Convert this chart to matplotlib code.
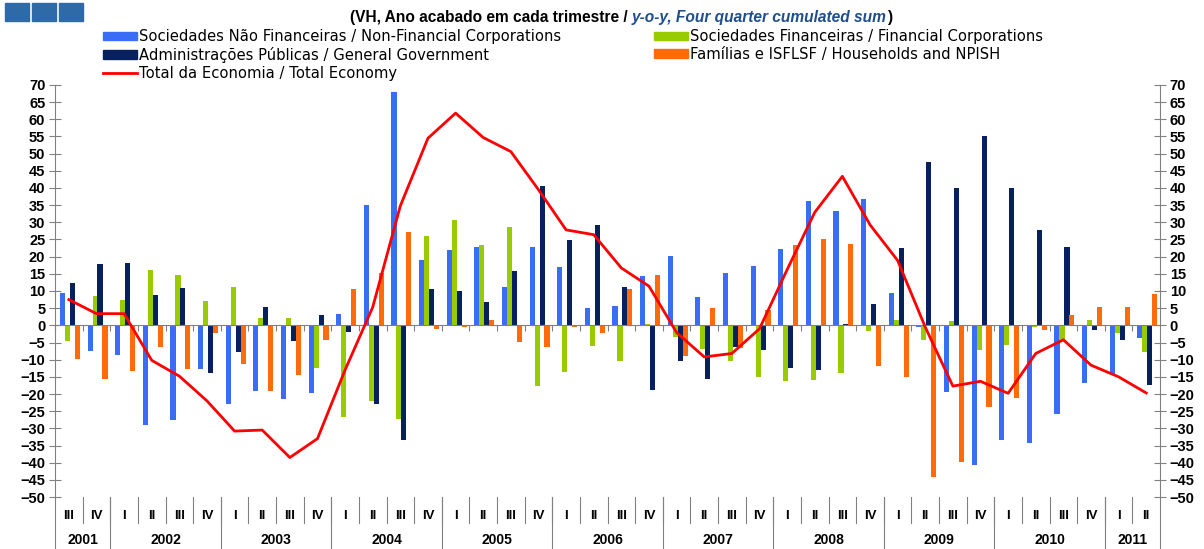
import matplotlib

matplotlib.use("Agg")
import matplotlib.pyplot as plt
import numpy as np
from matplotlib.lines import Line2D
from matplotlib.patches import Patch, Rectangle

# quarters 2001 III .. 2011 II
quarters = ["III", "IV"] + ["I", "II", "III", "IV"] * 9 + ["I", "II"]
years = ["2001", "2002", "2003", "2004", "2005", "2006", "2007", "2008", "2009", "2010", "2011"]
quarters_per_year = [2, 4, 4, 4, 4, 4, 4, 4, 4, 4, 2]

non_financial = [9.5, -7.5, -8.5, -29.1, -27.6, -12.8, -22.8, -19.0, -21.4, -19.6,
                 3.3, 35.1, 67.9, 19.1, 21.9, 22.7, 11.3, 22.7, 16.9, 5.1,
                 5.5, 14.4, 20.3, 8.2, 15.1, 17.2, 22.2, 36.1, 33.3, 36.7,
                 9.5, -0.5, -19.4, -40.8, -33.4, -34.2, -25.8, -16.9, -14.2, -3.6]
financial = [-4.5, 8.6, 7.4, 16.0, 14.8, 7.0, 11.2, 2.1, 2.1, -12.5,
             -26.6, -22.1, -27.4, 25.9, 30.8, 23.4, 28.7, -17.7, -13.7, -6.0,
             -10.4, 0.4, -3.4, -6.9, -10.5, -15.0, -16.3, -15.8, -14.0, -1.6,
             1.5, -4.4, 1.2, -7.3, -5.8, -0.5, -4.4, 1.5, -2.2, -7.9]
government = [12.3, 17.8, 18.1, 8.9, 11.0, -14.0, -7.8, 5.4, -4.7, 3.0,
              -2.0, -22.9, -33.4, 10.5, 9.9, 6.8, 15.7, 40.6, 24.9, 29.2,
              11.3, -18.7, -10.5, -15.7, -6.4, -7.3, -12.3, -12.9, 0.5, 6.1,
              22.5, 47.7, 40.0, 55.2, 40.0, 27.7, 22.7, -1.5, -4.2, -17.4]
households = [-9.8, -15.6, -13.4, -6.4, -12.8, -2.3, -11.4, -19.0, -14.6, -4.2,
              10.6, 15.2, 27.3, -1.1, -0.5, 1.5, -4.8, -6.4, -0.5, -2.1,
              10.5, 14.7, -8.9, 5.1, -6.6, 4.4, 23.4, 25.2, 23.7, -11.8,
              -15.0, -44.3, -39.7, -23.7, -21.1, -1.5, 3.1, 5.3, 5.3, 9.2]
total = [7.5, 3.4, 3.4, -10.2, -14.8, -22.0, -30.8, -30.5, -38.5, -33.0,
         -13.0, 5.3, 34.8, 54.5, 61.8, 54.7, 50.6, 39.5, 27.8, 26.4,
         16.7, 11.4, -2.1, -9.2, -8.2, -1.0, 16.2, 32.9, 43.4, 29.3,
         18.9, -0.5, -17.7, -16.3, -19.8, -8.2, -4.2, -11.6, -15.0, -19.7]

labels = [
    "Sociedades Não Financeiras / Non-Financial Corporations",
    "Sociedades Financeiras / Financial Corporations",
    "Administrações Públicas / General Government",
    "Famílias e ISFLSF / Households and NPISH",
    "Total da Economia / Total Economy",
]
colors = ["#3a6df5", "#99cc00", "#06215e", "#ff6a0a"]
line_color = "#ff0000"

plt.rcParams["font.family"] = ["Liberation Sans", "DejaVu Sans"]

fig = plt.figure(figsize=(12.04, 5.49), dpi=100)
ax = fig.add_axes([0.0457, 0.0947, 0.9178, 0.7505])

x = np.arange(len(quarters))
width = 0.185
offsets = [-0.23, -0.05, 0.13, 0.31]
for series, color, off in zip([non_financial, financial, government, households], colors, offsets):
    ax.bar(x + off, series, width=width, color=color, zorder=2)
ax.plot(x, total, color=line_color, linewidth=2, zorder=3)

ax.set_xlim(-0.5, len(quarters) - 0.5)
ax.set_ylim(-50, 70)
ax.set_yticks(np.arange(-50, 71, 5))
ax.set_xticks(x - 0.5)
ax.set_xticklabels([])
ax.tick_params(axis="x", direction="out", length=4, color="#808080")
ax.tick_params(axis="y", direction="inout", length=8, color="#808080",
               labelsize=10.5, right=True, labelright=True, pad=3)
for lab in ax.get_yticklabels():
    lab.set_fontweight("bold")

ax.spines["top"].set_visible(False)
ax.spines["bottom"].set_position(("data", 0))
for side in ["left", "right", "bottom"]:
    ax.spines[side].set_color("#808080")

# category axis below the plot: quarters and years
trans = ax.get_xaxis_transform()
for i, q in enumerate(quarters):
    ax.text(i, -0.045, q, transform=trans, ha="center", va="center",
            fontsize=9.5, fontweight="bold")
    if i > 0:
        ax.add_line(Line2D([i - 0.5, i - 0.5], [0, -0.063], transform=trans,
                           color="#808080", linewidth=0.8, clip_on=False))
start = 0
bounds = [-0.5]
for yr, n in zip(years, quarters_per_year):
    ax.text(start + (n - 1) / 2, -0.105, yr, transform=trans, ha="center", va="center",
            fontsize=10, fontweight="bold")
    start += n
    bounds.append(start - 0.5)
for b in bounds:
    ax.add_line(Line2D([b, b], [0, -0.13], transform=trans,
                       color="#808080", linewidth=0.8, clip_on=False))

# legend
handles = [
    Patch(color=colors[0]), Patch(color=colors[2]),
    Line2D([], [], color=line_color, linewidth=2),
    Patch(color=colors[1]), Patch(color=colors[3]),
]
order_labels = [labels[0], labels[2], labels[4], labels[1], labels[3]]
fig.legend(handles, order_labels, ncol=2, loc="upper left", bbox_to_anchor=(0.081, 0.958),
           frameon=False, prop={"family": "DejaVu Sans", "size": 10.6},
           handlelength=2.3, handleheight=0.5, handletextpad=0.15,
           columnspacing=6.3, labelspacing=0.2, borderaxespad=0)

# title, three pieces placed one after another
renderer = fig.canvas.get_renderer()
pieces = [
    ("(VH, Ano acabado em cada trimestre / ", "normal", "black"),
    ("y-o-y, Four quarter cumulated sum", "italic", "#1f4e8c"),
    (")", "normal", "black"),
]
x_pos = 350 / 1204
for txt, style, col in pieces:
    t = fig.text(x_pos, 0.968, txt, ha="left", va="center", fontsize=11.2,
                 fontweight="bold", style=style, color=col)
    bb = t.get_window_extent(renderer=renderer)
    x_pos += bb.width / fig.bbox.width

# three small squares in the corner
for k in range(3):
    fig.patches.append(Rectangle((0.004 + k * 0.0225, 0.962), 0.02, 0.032,
                                 transform=fig.transFigure, color="#2f6aa8"))

fig.savefig("out.png", dpi=100)
plt.close(fig)
